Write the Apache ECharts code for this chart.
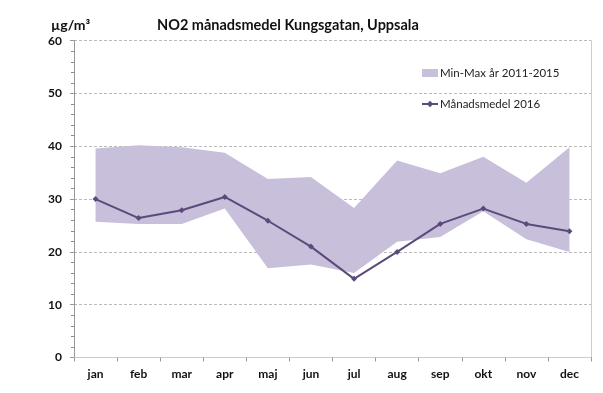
<!DOCTYPE html>
<html><head><meta charset="utf-8">
<script src="https://cdn.jsdelivr.net/npm/echarts@6/dist/echarts.min.js"></script>
<style>html,body{margin:0;padding:0;background:#fff}#c{width:603px;height:393px}</style>
</head><body><div id="c"></div>
<script>
const months = ['jan','feb','mar','apr','maj','jun','jul','aug','sep','okt','nov','dec'];
const minVals = [25.7, 25.3, 25.3, 28.2, 16.9, 17.6, 16.0, 21.9, 22.8, 27.7, 22.4, 20.0];
const maxVals = [39.6, 40.2, 39.8, 38.8, 33.8, 34.2, 28.3, 37.3, 34.9, 38.0, 33.1, 39.8];
const mean2016 = [30.0, 26.4, 27.9, 30.4, 25.9, 21.0, 14.9, 20.0, 25.3, 28.2, 25.3, 23.9];
const yTicks = [0, 10, 20, 30, 40, 50, 60];

const bandDiff = maxVals.map((v, i) => +(v - minVals[i]).toFixed(2));
const font = 'Lato, "Open Sans", sans-serif';
const chart = echarts.init(document.getElementById('c'), null, {renderer: 'canvas'});
chart.setOption({
  animation: false,
  textStyle: {fontFamily: font},
  grid: {left: 74, right: 12, top: 40.7, bottom: 35.5, containLabel: false},
  title: [
    {text: 'NO2 månadsmedel Kungsgatan, Uppsala', left: 152, top: 13,
     textStyle: {fontSize: 14.5, fontWeight: 'bold', color: '#111', fontFamily: font}},
    {text: 'µg/m³', left: 46, top: 13,
     textStyle: {fontSize: 14, fontWeight: 'bold', color: '#111', fontFamily: font}}
  ],
  legend: {
    orient: 'vertical', left: 416, top: 62, itemGap: 19,
    itemWidth: 16, itemHeight: 8,
    textStyle: {fontSize: 11.5, color: '#222', fontFamily: font, padding: [0,0,0,-3]},
    data: [
      {name: 'Min-Max år 2011-2015', icon: 'rect'},
      {name: 'Månadsmedel 2016'}
    ]
  },
  xAxis: [{
    type: 'category', data: months, boundaryGap: true,
    axisLine: {lineStyle: {color: '#999'}},
    axisTick: {show: true, interval: 0, length: 4, lineStyle: {color: '#999'}},
    axisLabel: {color: '#111', fontWeight: 'bold', fontSize: 12, margin: 11, fontFamily: font}
  }, {
    type: 'category', data: months, position: 'top',
    axisLine: {show: true, lineStyle: {color: '#ccc'}},
    axisTick: {show: false}, axisLabel: {show: false}
  }],
  yAxis: [{
    type: 'value', min: yTicks[0], max: yTicks[yTicks.length - 1], interval: 10,
    axisLine: {show: true, lineStyle: {color: '#999'}},
    axisTick: {show: true, length: 4, lineStyle: {color: '#999'}},
    minorTick: {show: true, splitNumber: 5, length: 3, lineStyle: {color: '#888'}},
    splitLine: {show: true, lineStyle: {color: '#aaa', type: [3, 2], width: 0.8}},
    axisLabel: {color: '#111', fontWeight: 'bold', fontSize: 12, margin: 12, fontFamily: font}
  }, {
    type: 'value', min: 0, max: 60, interval: 10, position: 'right',
    axisLine: {show: true, lineStyle: {color: '#ccc'}},
    axisTick: {show: false}, axisLabel: {show: false}, splitLine: {show: false}
  }],
  series: [
    {name: 'base', type: 'line', stack: 'band', data: minVals, symbol: 'none',
     lineStyle: {opacity: 0}, areaStyle: {opacity: 0}, silent: true, z: 1},
    {name: 'Min-Max år 2011-2015', type: 'line', stack: 'band', data: bandDiff, symbol: 'none',
     itemStyle: {color: '#c8bfdb'},
     lineStyle: {opacity: 0}, areaStyle: {color: '#c8bfdb', opacity: 1}, z: 2},
    {name: 'Månadsmedel 2016', type: 'line', data: mean2016,
     symbol: 'diamond', symbolSize: 6, showSymbol: true,
     itemStyle: {color: '#5b4a7c'}, lineStyle: {color: '#5b4a7c', width: 2}, z: 3}
  ]
});
</script></body></html>
